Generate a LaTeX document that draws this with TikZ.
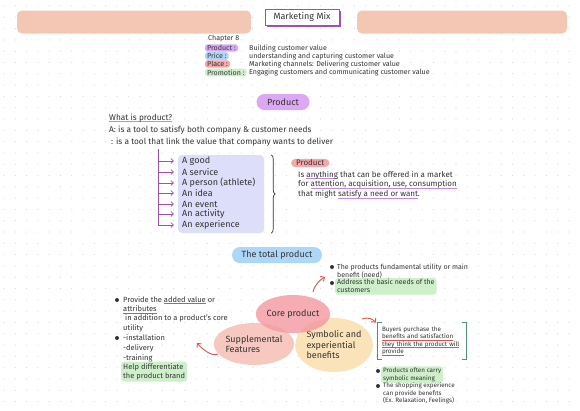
\documentclass[tikz,border=0pt]{standalone}
\usepackage{fontspec}
\setmainfont{Fira Sans}
\usetikzlibrary{positioning, arrows.meta, shapes.geometric, shadows, decorations.pathreplacing}

\definecolor{ink}{HTML}{333333}
\definecolor{dotgray}{HTML}{D9D9D9}
\definecolor{brushcol}{HTML}{F2B9A2}
\definecolor{mixpurple}{HTML}{9A52B5}
\definecolor{hlpurple}{HTML}{DCA8F4}
\definecolor{hlblue}{HTML}{AED6F7}
\definecolor{hlpink}{HTML}{F5A7AA}
\definecolor{hlgreen}{HTML}{CFEFCB}
\definecolor{formsbox}{HTML}{DDDEF9}
\definecolor{branchpurple}{HTML}{A24FA8}
\definecolor{corecol}{HTML}{F39AA3}
\definecolor{suppcol}{HTML}{F6BDB3}
\definecolor{symbcol}{HTML}{FADCAA}
\definecolor{arrowred}{HTML}{D9534F}
\definecolor{linelilac}{HTML}{BD8BE0}
\definecolor{bracketteal}{HTML}{4F8F7E}

\newcommand{\redline}[1]{\leavevmode\setbox0=\hbox{#1}\rlap{\textcolor{arrowred}{\rule[-0.45ex]{\wd0}{0.6pt}}}\box0\relax}
\newcommand{\lilacline}[1]{\leavevmode\setbox0=\hbox{#1}\rlap{\textcolor{linelilac}{\rule[-0.45ex]{\wd0}{0.8pt}}}\box0\relax}

\begin{document}
\begin{tikzpicture}[
    x=1pt, y=-1pt,
    every node/.style={text=ink},
    brush/.style={fill=brushcol, fill opacity=0.8, rounded corners=5pt, inner sep=0pt},
    mixbox/.style={draw=mixpurple, line width=1pt, fill=white, inner sep=0pt, minimum width=74pt, minimum height=16pt,
        font=\fontsize{9}{11}\selectfont, drop shadow={shadow xshift=2pt, shadow yshift=-2pt, fill=mixpurple, opacity=1}},
    chapline/.style={anchor=west, inner sep=0pt, font=\fontsize{7.1}{8}\selectfont},
    hl/.style={rounded corners=2.5pt, inner xsep=2pt, inner ysep=1pt},
    pill/.style={rounded corners=8pt, inner sep=0pt, minimum height=16pt, font=\fontsize{9}{11}\selectfont},
    body/.style={anchor=west, inner sep=0pt, font=\fontsize{8.3}{10}\selectfont},
    item/.style={anchor=west, inner sep=0pt, font=\fontsize{9}{10}\selectfont},
    branch/.style={draw=branchpurple, line width=0.7pt, -{Straight Barb[length=2.5pt]}},
    curly/.style={decorate, decoration={brace, amplitude=4pt}, draw=ink, line width=0.7pt},
    bubble/.style={ellipse, fill opacity=0.82, text opacity=1, inner sep=0pt, align=left, font=\fontsize{9}{10.5}\selectfont},
    redarrow/.style={draw=arrowred, line width=0.9pt, -{Straight Barb[length=3pt]}},
    note/.style={anchor=north west, align=left, inner sep=0pt},
    dotmark/.style={circle, fill=ink, inner sep=0pt, minimum size=4pt},
    bracketline/.style={draw=bracketteal, line width=0.8pt}
]
    % page and dot grid
    \useasboundingbox[fill=white] (0,0) rectangle (580,410);
    \foreach \x in {4,15.3,...,580}
        \foreach \y in {6,17.3,...,410}
            \fill[dotgray] (\x,\y) circle (0.6pt);

    % header
    \node[brush, minimum width=234pt, minimum height=23pt] (leftbrush) at (134,22) {};
    \node[brush, minimum width=210pt, minimum height=23pt] (rightbrush) at (462,22) {};
    \node[mixbox] (mix) at (302,17) {Marketing Mix};

    \node[chapline] (chap) at (208,39) {Chapter 8};
    \node[chapline, hl, fill=hlpurple] (prodlab) at (205,48) {Product :};
    \node[chapline, hl, fill=hlblue] (pricelab) at (205,56) {Price :};
    \node[chapline, hl, fill=hlpink] (placelab) at (205,64) {Place :};
    \node[chapline, hl, fill=hlgreen] (promolab) at (205,72.5) {Promotion :};
    \node[chapline] (proddesc) at (249,48) {Building customer value};
    \node[chapline] (pricedesc) at (249,56) {understanding and capturing customer value};
    \node[chapline] (placedesc) at (249,64) {Marketing channels: Delivering customer value};
    \node[chapline] (promodesc) at (249,72.5) {Engaging customers and communicating customer value};

    % what is product
    \node[pill, fill=hlpurple, minimum width=53pt] (product) at (283,102) {Product};
    \node[body] (whatis) at (109,118) {\lilacline{What is product?}};
    \node[body] (answera) at (109,130) {A: is a tool to satisfy both company \& customer needs};
    \node[body] (answerb) at (111,142) {: is a tool that link the value that company wants to deliver};

    % forms of product
    \node[fill=formsbox, rounded corners=4pt, minimum width=86pt, minimum height=78pt, inner sep=0pt] (forms) at (221,194) {};
    \node[item] (g1) at (182,161) {A good};
    \node[item] (g2) at (182,172) {A service};
    \node[item] (g3) at (182,183) {A person (athlete)};
    \node[item] (g4) at (182,193) {An idea};
    \node[item] (g5) at (182,204) {An event};
    \node[item] (g6) at (182,214) {An activity};
    \node[item] (g7) at (182,225) {An experience};
    \coordinate (trunk) at (158,149);
    \foreach \i in {1,...,7}
        \draw[branch] (trunk) |- ([xshift=-4pt]forms.west |- g\i);
    \draw[curly] ([xshift=7pt]forms.north east) -- ([xshift=7pt]forms.south east);

    \node[chapline, hl, fill=hlpink, rounded corners=4pt, inner xsep=5pt, font=\fontsize{8}{9}\selectfont] (deflab) at (291,163) {Product};
    \node[note, font=\fontsize{8}{9.7}\selectfont] (definition) at (298,170.8)
        {Is \lilacline{anything} that can be offered in a market\\for \lilacline{attention, acquisition, use, consumption}\\that might \lilacline{satisfy a need or want}.};

    % the total product
    \node[pill, fill=hlblue, minimum width=90pt] (total) at (277,255) {The total product};

    \node[bubble, fill=suppcol, minimum width=78pt, minimum height=42pt] (supp) at (254,344) {Supplemental\\Features};
    \node[bubble, fill=symbcol, minimum width=68pt, minimum height=54pt] (symb) at (334,345) {Symbolic and\\experiential\\benefits};
    \node[bubble, fill=corecol, minimum width=72pt, minimum height=38pt] (core) at (293,314) {Core product};

    % core notes
    \node[note, font=\fontsize{7}{8}\selectfont] (utility) at (337,263.5) {The products fundamental utility or main\\benefit (need)};
    \node[note, fill=hlgreen, rounded corners=3pt, inner xsep=2pt, inner ysep=1.5pt, font=\fontsize{7}{8}\selectfont] (basics) at (335,277.8) {Address the basic needs of the\\customers};
    \node[dotmark] (utilitydot) at (332,267) {};
    \node[dotmark] (basicsdot) at (332,283) {};
    \coordinate (coreout) at (313,292);
    \coordinate (coretip) at (325,277);
    \draw[redarrow] (coreout) .. controls +(2,-8) and +(-5,3) .. (coretip);

    % supplemental notes
    \node[note, font=\fontsize{7.5}{9.4}\selectfont] (addvalue) at (123,296)
        {Provide the \redline{added value} or\\\redline{attributes}\\\ in addition to a product's core\\utility};
    \node[note, font=\fontsize{7.5}{10}\selectfont] (services) at (123,334) {-installation\\-delivery\\-training};
    \node[note, fill=hlgreen, rounded corners=3pt, inner xsep=2pt, inner ysep=1.5pt, font=\fontsize{7.5}{9.4}\selectfont] (brand) at (121,361.5) {Help differentiate\\the product brand};
    \node[dotmark] (addvaluedot) at (117,300) {};
    \node[dotmark] (servicesdot) at (117,338) {};
    \coordinate (suppout) at (218,354);
    \coordinate (supptip) at (197,343);
    \draw[redarrow] (suppout) .. controls +(-6,3) and +(5,6) .. (supptip);

    % symbolic notes
    \node[note, anchor=center, text width=80pt, inner xsep=4pt, inner ysep=4pt, font=\fontsize{6.3}{7.4}\selectfont] (buyers) at (422,341)
        {Buyers purchase the\\\redline{benefits and satisfaction}\\\redline{they think the product will}\\\redline{provide}};
    \draw[bracketline] ([xshift=4pt]buyers.north west) -- (buyers.north west) -- (buyers.south west) -- ([xshift=4pt]buyers.south west);
    \draw[bracketline] ([xshift=-4pt]buyers.north east) -- (buyers.north east) -- (buyers.south east) -- ([xshift=-4pt]buyers.south east);
    \coordinate (symbout) at (362,319);
    \draw[redarrow] (symbout) to[bend left=35] ([xshift=-2pt]buyers.north west);

    \node[note, fill=hlgreen, rounded corners=3pt, inner xsep=2pt, inner ysep=1.5pt, font=\fontsize{6.3}{7.5}\selectfont] (symbolic) at (381,366.2) {Products often carry\\symbolic meaning};
    \node[note, font=\fontsize{6.3}{7.5}\selectfont] (shopping) at (383,382.7) {The shopping experience\\can provide benefits\\(Ex. Relaxation, Feelings)};
    \node[dotmark] (symbolicdot) at (378,371) {};
    \node[dotmark] (shoppingdot) at (378,386) {};
\end{tikzpicture}
\end{document}
